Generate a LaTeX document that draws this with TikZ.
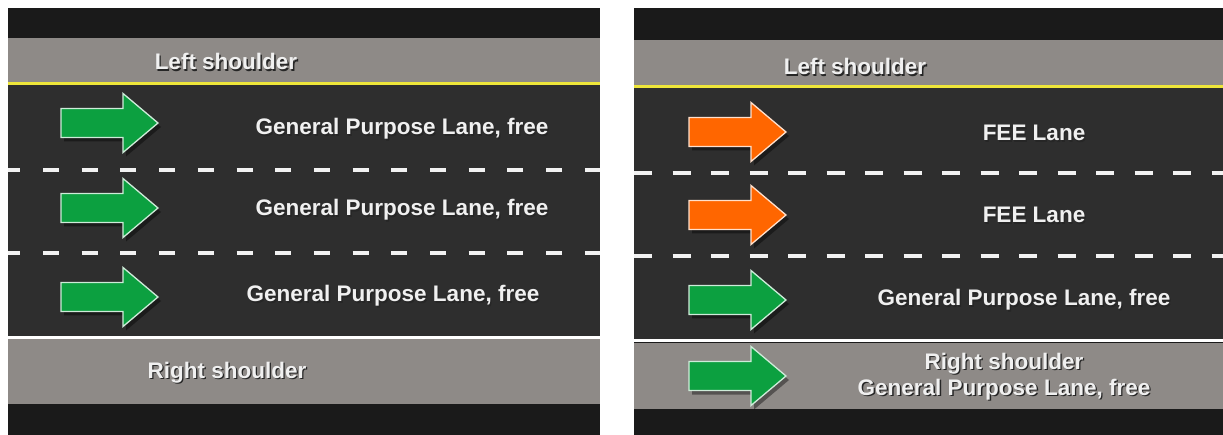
\documentclass[tikz,border=0pt]{standalone}
\usepackage{fontspec}
\setmainfont{Liberation Sans}
\usetikzlibrary{shadows}

\definecolor{roadblack}{HTML}{1A1A1A}
\definecolor{asphalt}{HTML}{2E2E2E}
\definecolor{shouldergrey}{HTML}{8E8A87}
\definecolor{edgeyellow}{HTML}{EEE63A}
\definecolor{arrowgreen}{HTML}{0CA040}
\definecolor{arroworange}{HTML}{FF6600}

\newcommand{\shadowtext}[1]{\makebox[0pt][l]{\hspace{1.3pt}\raisebox{-1.3pt}{\color{black!85}#1}}#1}

\begin{document}
\begin{tikzpicture}[x=1pt, y=-1pt,
		lanetext/.style={text=white!94!black, font=\bfseries\fontsize{22.5}{26}\selectfont, inner sep=0pt},
		lanedash/.style={white!95!black, line width=3.5pt, dash pattern=on 16pt off 22.7pt},
		pics/lanearrow/.style={code={
			\filldraw[fill=#1, draw=white!80!#1, line width=1.3pt,
				drop shadow={shadow xshift=3pt, shadow yshift=-4pt, opacity=0.4, fill=black}]
				(0,-14.5) -- (62,-14.5) -- (62,-29.5) -- (97,0) -- (62,29.5) -- (62,14.5) -- (0,14.5) -- cycle;
		}}]
		\useasboundingbox (0,0) rectangle (1223,435);
		
		% left picture
		\fill[roadblack] (8,8) rectangle (600,435);
		\fill[shouldergrey] (8,38) rectangle (600,83);
		\fill[asphalt] (8,85) rectangle (600,337);
		\fill[shouldergrey] (8,339) rectangle (600,404);
		\draw[edgeyellow, line width=3pt] (8,84) -- (600,84); % yellow edge line
		\draw[white, line width=3pt] (8,338) -- (600,338); % white edge line
		\draw[lanedash, dash phase=3.7pt] (8,170) -- (600,170);
		\draw[lanedash, dash phase=3.7pt] (8,253) -- (600,253);
		
		\pic at (61,123) {lanearrow=arrowgreen};
		\pic at (61,208) {lanearrow=arrowgreen};
		\pic at (61,297) {lanearrow=arrowgreen};
		
		\node[lanetext, anchor=base] (lshoulderA) at (226,70) {\shadowtext{Left shoulder}};
		\node[lanetext, anchor=base] (laneA1) at (402,135) {\shadowtext{General Purpose Lane, free}};
		\node[lanetext, anchor=base] (laneA2) at (402,216) {\shadowtext{General Purpose Lane, free}};
		\node[lanetext, anchor=base] (laneA3) at (393,302) {\shadowtext{General Purpose Lane, free}};
		\node[lanetext, anchor=base] (rshoulderA) at (227,378) {\shadowtext{Right shoulder}};
		
		% right picture
		\fill[roadblack] (634,8) rectangle (1223,435);
		\fill[shouldergrey] (634,40) rectangle (1223,86);
		\fill[asphalt] (634,88) rectangle (1223,340);
		\fill[shouldergrey] (634,343) rectangle (1223,409);
		\draw[edgeyellow, line width=3pt] (634,87) -- (1223,87);
		\draw[white, line width=3pt] (634,341) -- (1223,341);
		\draw[lanedash, dash pattern=on 18pt off 20.5pt] (634,173) -- (1223,173);
		\draw[lanedash, dash pattern=on 18pt off 20.5pt] (634,256) -- (1223,256);
		
		\pic at (689,132) {lanearrow=arroworange};
		\pic at (689,215) {lanearrow=arroworange};
		\pic at (689,300) {lanearrow=arrowgreen};
		\pic at (689,376) {lanearrow=arrowgreen};
		
		\node[lanetext, anchor=base] (lshoulderB) at (855,75) {\shadowtext{Left shoulder}};
		\node[lanetext, anchor=base] (laneB1) at (1034,141) {\shadowtext{FEE Lane}};
		\node[lanetext, anchor=base] (laneB2) at (1034,223) {\shadowtext{FEE Lane}};
		\node[lanetext, anchor=base] (laneB3) at (1024,306) {\shadowtext{General Purpose Lane, free}};
		\node[lanetext, align=center] (rshoulderB) at (1004,377) {\shadowtext{Right shoulder}\\\shadowtext{General Purpose Lane, free}};
	\end{tikzpicture}
\end{document}
